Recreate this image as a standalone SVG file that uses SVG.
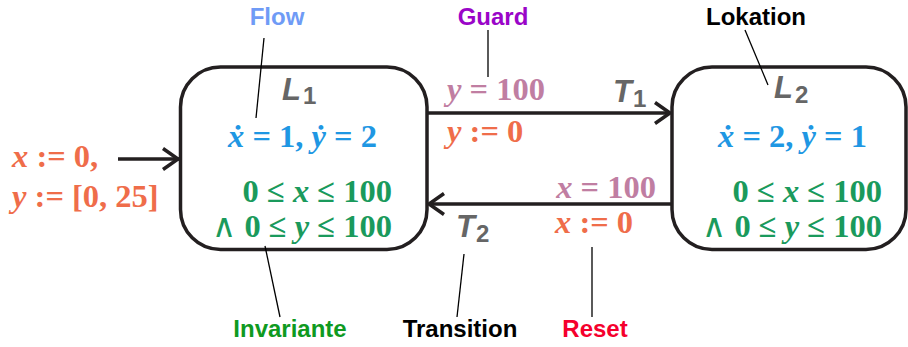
<svg xmlns="http://www.w3.org/2000/svg" width="908" height="347" viewBox="0 0 908 347">
<style>
.box{fill:#fff;stroke:#231f20;stroke-width:3.5}
.edge{fill:none;stroke:#231f20;stroke-width:3.5}
.head{fill:none;stroke:#231f20;stroke-width:3.5;stroke-linecap:butt;stroke-linejoin:miter}
.lead{fill:none;stroke:#000;stroke-width:1.3}
.lab{font-family:"Liberation Sans",Arial,sans-serif;font-weight:bold;font-size:24px;text-anchor:middle}
.name{font-family:"Liberation Sans",Arial,sans-serif;font-weight:bold;font-style:italic;font-size:31px;fill:#666}
.sub{font-style:normal;font-size:24px}
.math{font-family:"Liberation Serif","Times New Roman",serif;font-weight:bold;font-size:32.5px}
.v{font-style:italic}
.flow{fill:#1f97e3}
.inv{fill:#1a9a5c}
.grd{fill:#c07ea2}
.rst{fill:#ef6d4a}
</style>
<g id="connectors">
  <line class="edge" x1="118" y1="159" x2="179" y2="159"/>
  <polyline class="head" points="163,148.5 178,159 163,169.5"/>
  <line class="edge" x1="427" y1="113" x2="670" y2="113"/>
  <polyline class="head" points="655,102.5 670,113 655,123.5"/>
  <line class="edge" x1="672" y1="204" x2="430" y2="204"/>
  <polyline class="head" points="444,193.5 429,204 444,214.5"/>
</g>
<g id="L1">
  <rect class="box" x="180.5" y="67" width="246.5" height="182.5" rx="40" ry="40"/>
  <text class="name" x="282" y="100">L<tspan class="sub" dx="2" dy="4">1</tspan></text>
  <text class="math flow" x="228" y="147"><tspan class="v">ẋ</tspan> = 1, <tspan class="v">ẏ</tspan> = 2</text>
  <text class="math inv" x="392" y="202" text-anchor="end">0 ≤ <tspan class="v">x</tspan> ≤ 100</text>
  <text class="math inv" x="392" y="237" text-anchor="end"><tspan font-weight="normal">∧</tspan> 0 ≤ <tspan class="v">y</tspan> ≤ 100</text>
</g>
<g id="L2">
  <rect class="box" x="672" y="67" width="234" height="182.5" rx="40" ry="40"/>
  <text class="name" x="774" y="98">L<tspan class="sub" dx="2" dy="5">2</tspan></text>
  <text class="math flow" x="718" y="147"><tspan class="v">ẋ</tspan> = 2, <tspan class="v">ẏ</tspan> = 1</text>
  <text class="math inv" x="882" y="202" text-anchor="end">0 ≤ <tspan class="v">x</tspan> ≤ 100</text>
  <text class="math inv" x="882" y="237" text-anchor="end"><tspan font-weight="normal">∧</tspan> 0 ≤ <tspan class="v">y</tspan> ≤ 100</text>
</g>
<g id="init">
  <text class="math rst" x="12" y="167"><tspan class="v">x</tspan> := 0,</text>
  <text class="math rst" x="12" y="207"><tspan class="v">y</tspan> := [0, 25]</text>
</g>
<g id="T1">
  <text class="name" x="613" y="102">T<tspan class="sub" dx="1" dy="5">1</tspan></text>
  <text class="math grd" x="447" y="100"><tspan class="v">y</tspan> = 100</text>
  <text class="math rst" x="447" y="142"><tspan class="v">y</tspan> := 0</text>
</g>
<g id="T2">
  <text class="name" x="456" y="237">T<tspan class="sub" dx="1" dy="5">2</tspan></text>
  <text class="math grd" x="656" y="198" text-anchor="end"><tspan class="v">x</tspan> = 100</text>
  <text class="math rst" x="555" y="233"><tspan class="v">x</tspan> := 0</text>
</g>
<g id="annotations">
  <line class="lead" x1="264" y1="38" x2="256" y2="118"/>
  <line class="lead" x1="488" y1="30" x2="488" y2="77"/>
  <line class="lead" x1="745" y1="30" x2="768" y2="85"/>
  <line class="lead" x1="265" y1="246" x2="280" y2="317"/>
  <line class="lead" x1="464" y1="254" x2="457" y2="317"/>
  <line class="lead" x1="592" y1="247" x2="592" y2="317"/>
  <text class="lab" x="277" y="25" fill="#6f9bf6">Flow</text>
  <text class="lab" x="493" y="25" fill="#9a05c8">Guard</text>
  <text class="lab" x="756" y="25" fill="#000">Lokation</text>
  <text class="lab" x="290" y="337" fill="#0f9a1f">Invariante</text>
  <text class="lab" x="460" y="337" fill="#000">Transition</text>
  <text class="lab" x="595" y="337" fill="#f5002d">Reset</text>
</g>
</svg>
